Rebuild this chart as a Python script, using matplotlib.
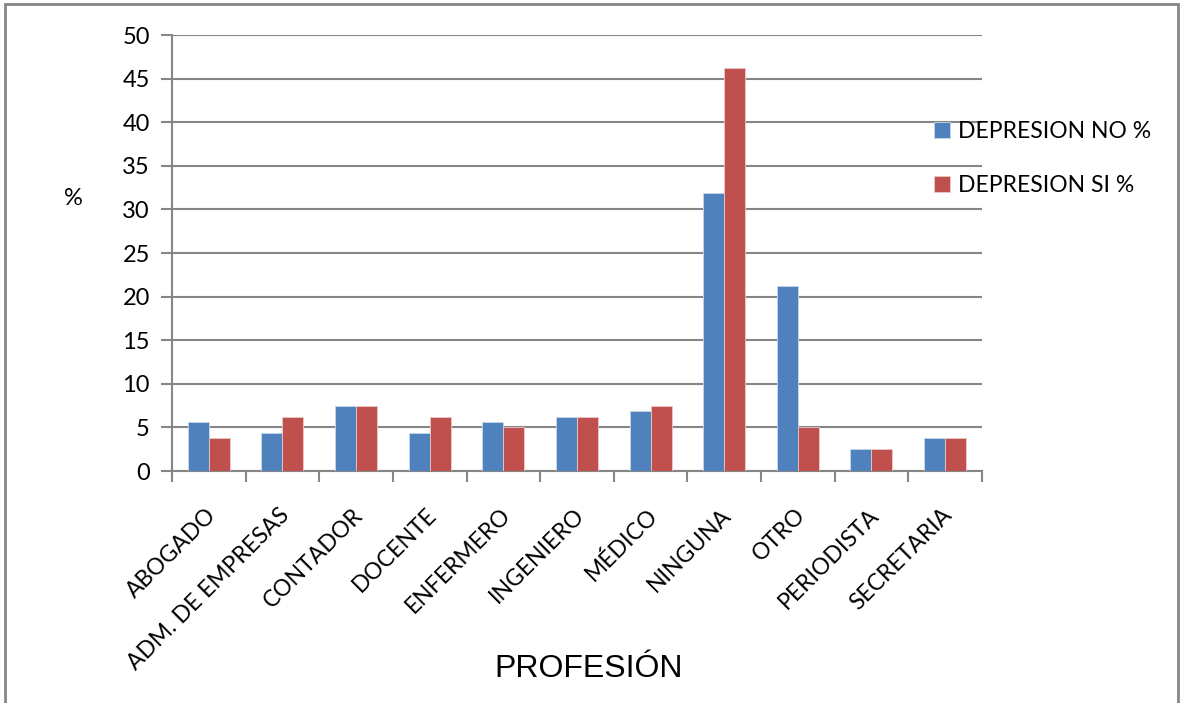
import numpy as np
import matplotlib.pyplot as plt
from matplotlib.patches import Rectangle

profesiones = ['ABOGADO', 'ADM. DE EMPRESAS', 'CONTADOR', 'DOCENTE', 'ENFERMERO',
               'INGENIERO', 'MÉDICO', 'NINGUNA', 'OTRO', 'PERIODISTA', 'SECRETARIA']
dep_no = [5.625, 4.375, 7.5, 4.375, 5.625, 6.25, 6.875, 31.875, 21.25, 2.5, 3.75]
dep_si = [3.75, 6.25, 7.5, 6.25, 5.0, 6.25, 7.5, 46.25, 5.0, 2.5, 3.75]

azul = '#4F81BD'
rojo = '#C0504D'
gris = '#868686'

plt.rcParams['font.family'] = ['Lato', 'DejaVu Sans']

fig = plt.figure(figsize=(11.83, 7.03), dpi=100)
ax = fig.add_axes([0.1454, 0.330, 0.6846, 0.620])

x = np.arange(len(profesiones))
w = 0.285
ax.bar(x - w/2, dep_no, w, color=azul, edgecolor='#c9d7ea', linewidth=0.6,
       label='DEPRESION NO %', zorder=3)
ax.bar(x + w/2, dep_si, w, color=rojo, edgecolor='#ecc9c8', linewidth=0.6,
       label='DEPRESION SI %', zorder=3)

ax.set_xlim(-0.5, len(profesiones) - 0.5)
ax.set_ylim(0, 50)
ax.set_yticks(np.arange(0, 51, 5))
ax.yaxis.grid(True, color=gris, linewidth=1.5, zorder=0)
ax.set_axisbelow(True)

# ticks sit on category boundaries, labels at centres
ax.set_xticks(np.arange(-0.5, len(profesiones)), minor=False)
ax.set_xticklabels([])
ax.set_xticks(x - 0.05, minor=True)
ax.set_xticklabels(profesiones, minor=True, rotation=45, ha='right',
                   rotation_mode='anchor', fontsize=16.5)
ax.tick_params(axis='x', which='major', direction='out', length=8, width=1.5, color=gris)
ax.tick_params(axis='x', which='minor', length=0, pad=24)
ax.tick_params(axis='y', direction='out', length=8, width=1.5, color=gris,
               labelsize=17, pad=8)

for s in ['top', 'right']:
    ax.spines[s].set_visible(False)
for s in ['left', 'bottom']:
    ax.spines[s].set_color(gris)
    ax.spines[s].set_linewidth(1.5)

ax.set_ylabel('%', rotation=0, fontsize=17, labelpad=0)
ax.yaxis.set_label_coords(-0.122, 0.60)
ax.set_xlabel('PROFESIÓN', fontsize=23, family=['Liberation Sans'])
ax.xaxis.set_label_coords(0.515, -0.42)

ax.legend(loc='upper left', bbox_to_anchor=(0.93, 0.825), frameon=False,
          fontsize=16.5, handlelength=0.7, handleheight=0.7, handletextpad=0.35,
          labelspacing=1.45, borderaxespad=0)

fig.patches.append(Rectangle((0.004, -0.01), 0.992, 1.004, transform=fig.transFigure,
                             fill=False, edgecolor=gris, linewidth=2))

fig.savefig('out.png', dpi=100)
